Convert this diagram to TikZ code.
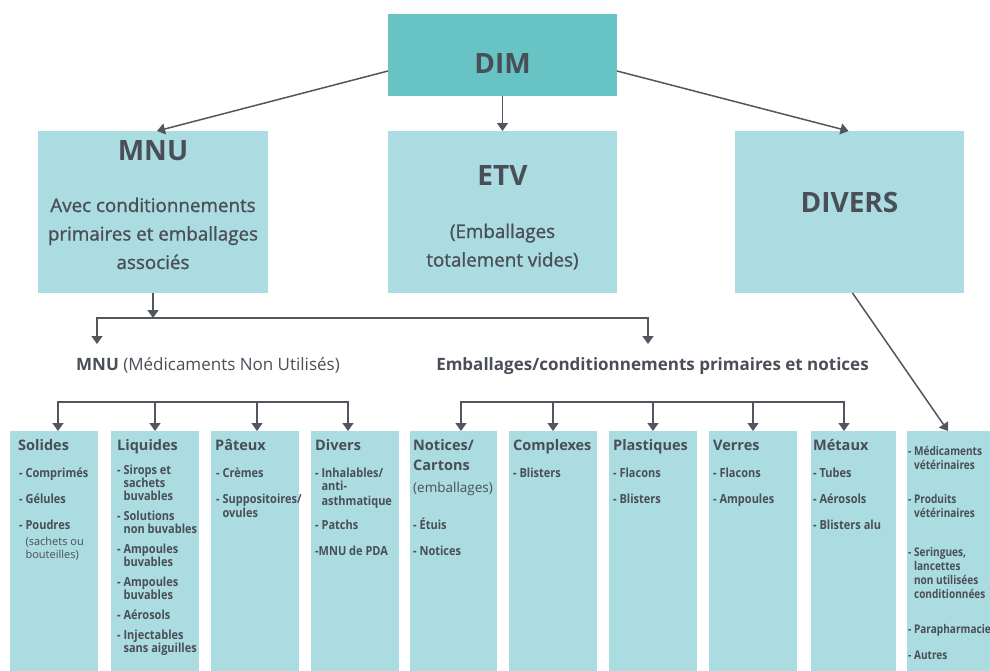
\documentclass[tikz,border=0pt]{standalone}
\usepackage{fontspec}
\setmainfont{Open Sans}
\newfontfamily\cond[FakeStretch=0.88]{Open Sans}
\newfontfamily\condn[FakeStretch=0.84]{Open Sans}
\newfontfamily\semi[FakeBold=1.1]{Open Sans}
\usetikzlibrary{arrows.meta}
\definecolor{boxc}{HTML}{AADCE1}
\definecolor{dimc}{HTML}{68C3C4}
\definecolor{txt}{HTML}{4A4E57}
\definecolor{linec}{HTML}{52565E}
\tikzset{
  box/.style={fill=boxc, inner sep=0pt, outer sep=0pt},
  ttl/.style={anchor=base, inner sep=0pt, text=txt, font=\fontsize{28}{30}\selectfont\bfseries},
  bod/.style={anchor=base, inner sep=0pt, text=txt, align=center, font=\semi\fontsize{18.8}{28.5}\selectfont},
  lab/.style={anchor=base, inner sep=0pt, text=txt, font=\fontsize{17}{20}\selectfont},
  subttl/.style={anchor=base west, inner sep=0pt, text=txt, align=left, font=\fontsize{14.5}{20}\selectfont\bfseries},
  item/.style={anchor=base west, inner sep=0pt, text=txt, align=left, font=\cond\fontsize{12.5}{13}\selectfont\bfseries},
  arr/.style={draw=linec, line width=1.5pt, -{Triangle[width=11pt,length=8pt]}},
  arrb/.style={draw=linec, line width=1.5pt, {Triangle[width=11pt,length=8pt]}-{Triangle[width=11pt,length=8pt]}},
}
\newcommand{\ind}{\phantom{- }}
\begin{document}
\begin{tikzpicture}[x=1pt,y=-1pt]
\clip (0,0) rectangle (990,670);
\fill[white] (0,0) rectangle (990,670);

% top level boxes
\node[box, fill=dimc, minimum width=229pt, minimum height=82pt] (dim) at (502.5,55) {};
\node[box, minimum width=230pt, minimum height=162pt] (mnu) at (153,212) {};
\node[box, minimum width=229pt, minimum height=162pt] (etv) at (502.5,212) {};
\node[box, minimum width=229pt, minimum height=162pt] (divers) at (849.5,212) {};

% (multi-line nodes are anchored at the baseline of their last line)
\node[ttl] (dimt) at (502.5,73) {DIM};
\node[ttl] (mnut) at (153,160) {MNU};
\node[bod] (mnub) at (153,269) {Avec conditionnements\\primaires et emballages\\associés};
\node[ttl] (etvt) at (502.5,185) {ETV};
\node[bod] (etvb) at (502.5,266.5) {(Emballages\\totalement vides)};
\node[ttl] (diverst) at (849.5,212) {DIVERS};

% bottom boxes
\node[box, minimum width=88pt, minimum height=249pt] (sol) at (54,555.5) {};
\node[box, minimum width=88pt, minimum height=249pt] (liq) at (155,555.5) {};
\node[box, minimum width=88pt, minimum height=249pt] (pat) at (255,555.5) {};
\node[box, minimum width=88pt, minimum height=249pt] (dvs) at (355,555.5) {};
\node[box, minimum width=87pt, minimum height=249pt] (not) at (453.5,555.5) {};
\node[box, minimum width=88pt, minimum height=249pt] (cpx) at (553,555.5) {};
\node[box, minimum width=88pt, minimum height=249pt] (pla) at (653,555.5) {};
\node[box, minimum width=88pt, minimum height=249pt] (ver) at (753,555.5) {};
\node[box, minimum width=85pt, minimum height=249pt] (met) at (853.5,555.5) {};
\node[box, minimum width=90pt, minimum height=249pt] (aut) at (952,555.5) {};

% connectors top
\draw[arr] ([yshift=-16pt]dim.west) -- ([xshift=4pt]mnu.north);
\draw[arr] (dim.south) -- (etv.north);
\draw[arr] ([yshift=-16pt]dim.east) -- ([xshift=-1pt]divers.north);
\draw[arr] ([xshift=3pt]divers.south) -- ([xshift=-4pt]aut.north);

\coordinate (j1) at (153,318);
\coordinate (hl) at (97,318);
\coordinate (hr) at (648,318);
\coordinate (hle) at (97,344);
\coordinate (hre) at (648,344);
\draw[arr] (mnu.south) -- (j1);
\draw[arrb] (hle) -- (hl) -- (hr) -- (hre);

\node[lab] (mnulab) at (208,370) {\textbf{MNU} (Médicaments Non Utilisés)};
\node[lab] (emblab) at (652.5,370) {\textbf{Emballages/conditionnements primaires et notices}};

% bus 1
\coordinate (s1) at (58,402);
\coordinate (s2) at (155,402);
\coordinate (s3) at (257,402);
\coordinate (s4) at (348,402);
\draw[arrb] (sol.north -| s1) -- (s1) -- (s4) -- (dvs.north -| s4);
\draw[arr] (s2) -- (liq.north -| s2);
\draw[arr] (s3) -- (pat.north -| s3);

% bus 2
\coordinate (t1) at (461,402);
\coordinate (t2) at (553,402);
\coordinate (t3) at (653,402);
\coordinate (t4) at (753,402);
\coordinate (t5) at (844,402);
\draw[arrb] (not.north -| t1) -- (t1) -- (t5) -- (met.north -| t5);
\draw[arr] (t2) -- (cpx.north -| t2);
\draw[arr] (t3) -- (pla.north -| t3);
\draw[arr] (t4) -- (ver.north -| t4);

% bottom box texts
\node[subttl] (solt) at (18,450) {Solides};
\node[item] (soli) at (19,558) {- Comprimés\\[13pt]- Gélules\\[13pt]- Poudres\\[3pt]{\normalfont\mdseries\fontsize{11}{13}\selectfont\ind(sachets ou}\\{\normalfont\mdseries\fontsize{11}{13}\selectfont\ind bouteilles)}};

\node[subttl] (liqt) at (117,450) {Liquides};
\node[item] (liqi) at (117,652) {- Sirops et\\\ind sachets\\\ind buvables\\[7pt]- Solutions\\\ind non buvables\\[7pt]- Ampoules\\\ind buvables\\[7pt]- Ampoules\\\ind buvables\\[7pt]- Aérosols\\[7pt]- Injectables\\\ind sans aiguilles};

\node[subttl] (patt) at (215,450) {Pâteux};
\node[item] (pati) at (216,517) {- Crèmes\\[13pt]- Suppositoires/\\[1pt]\ind ovules};

\node[subttl] (dvst) at (315,450) {Divers};
\node[item] (dvsi) at (315,555) {- Inhalables/\\\ind anti-\\[2pt]\ind asthmatique\\[11pt]- Patchs\\[13pt]-MNU de PDA};

\node[subttl] (nott) at (413,470) {Notices/\\Cartons};
\node[anchor=base west, inner sep=0pt, text=txt, font=\fontsize{13.5}{16}\selectfont] (nots) at (413,492) {(emballages)};
\node[item] (noti) at (413,555) {- Étuis\\[13pt]- Notices};

\node[subttl] (cpxt) at (513,450) {Complexes};
\node[item] (cpxi) at (513,477) {- Blisters};

\node[subttl] (plat) at (613,450) {Plastiques};
\node[item] (plai) at (613,503) {- Flacons\\[13pt]- Blisters};

\node[subttl] (vert) at (713,450) {Verres};
\node[item] (veri) at (713,503) {- Flacons\\[13pt]- Ampoules};

\node[subttl] (mett) at (813,450) {Métaux};
\node[item] (meti) at (813,529) {- Tubes\\[13pt]- Aérosols\\[13pt]- Blisters alu};

\node[item, font=\condn\fontsize{12}{14}\selectfont\bfseries] (auti) at (908,659) {- Médicaments\\\ind vétérinaires\\[20pt]- Produits\\\ind vétérinaires\\[25pt]- Seringues,\\\ind lancettes\\\ind non utilisées\\\ind conditionnées\\[21pt]- Parapharmacie\\[12pt]- Autres};
\end{tikzpicture}
\end{document}
